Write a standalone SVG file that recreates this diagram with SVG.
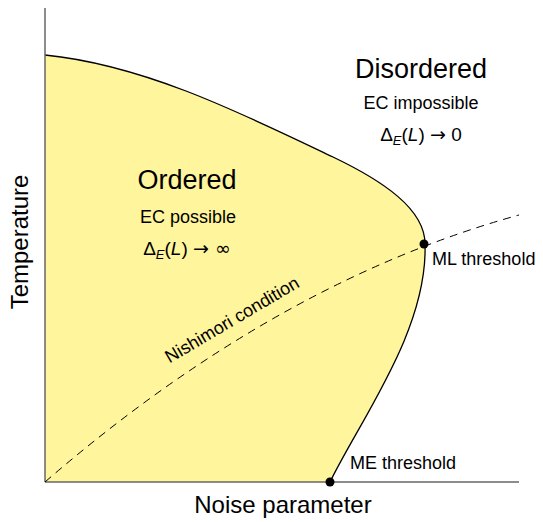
<svg xmlns="http://www.w3.org/2000/svg" width="543" height="522" viewBox="0 0 543 522">
<style>
text{font-family:"Liberation Sans",sans-serif;fill:#000}
.big{font-size:27px}
.mid{font-size:18px}
.math{font-size:19px}
.sub{font-size:13px;font-style:italic}
.it{font-style:italic}
.sym{font-family:"DejaVu Sans",sans-serif}
.lab{font-size:18px}
.axlab{font-size:24px}
</style>
<rect width="543" height="522" fill="#fff"/>
<g id="ordered-region">
<path d="M45,55 C145,65 243,114 333,157 C383,181 425,209 425,244 C428,330 360,420 330,482 L45,482 Z" fill="#fff59d" stroke="none"/>
<path d="M45,55 C145,65 243,114 333,157 C383,181 425,209 425,244 C428,330 360,420 330,482" fill="none" stroke="#000" stroke-width="1.3"/>
</g>
<g id="axes" stroke="#666" stroke-width="1.5">
<line x1="45" y1="8" x2="45" y2="482"/>
<line x1="45" y1="482" x2="519" y2="482"/>
</g>
<g id="connectors">
<path d="M45,482 Q276,282 519,215" fill="none" stroke="#000" stroke-width="1" stroke-dasharray="8,6"/>
</g>
<g id="ml-threshold">
<circle cx="424" cy="244" r="4.5" fill="#000"/>
<text class="lab" x="432" y="265">ML threshold</text>
</g>
<g id="me-threshold">
<circle cx="330" cy="482" r="4.5" fill="#000"/>
<text class="lab" x="350" y="469">ME threshold</text>
</g>
<g id="ordered">
<text class="big" x="187" y="189" text-anchor="middle">Ordered</text>
<text class="mid" x="188" y="223" text-anchor="middle">EC possible</text>
<text class="math" x="187" y="255" text-anchor="middle">Δ<tspan class="sub" dy="4">E</tspan><tspan dy="-4">(</tspan><tspan class="it">L</tspan>) <tspan class="sym">→ ∞</tspan></text>
</g>
<g id="disordered">
<text class="big" x="421" y="78" text-anchor="middle">Disordered</text>
<text class="mid" x="421" y="109" text-anchor="middle">EC impossible</text>
<text class="math" x="421" y="141" text-anchor="middle">Δ<tspan class="sub" dy="4">E</tspan><tspan dy="-4">(</tspan><tspan class="it">L</tspan>) <tspan class="sym">→</tspan> 0</text>
</g>
<g id="nishimori">
<text class="lab" transform="translate(235,325) rotate(-30.5)" text-anchor="middle">Nishimori condition</text>
</g>
<text class="axlab" x="283" y="513" text-anchor="middle">Noise parameter</text>
<text class="axlab" transform="translate(28,242) rotate(-90)" text-anchor="middle">Temperature</text>
</svg>
